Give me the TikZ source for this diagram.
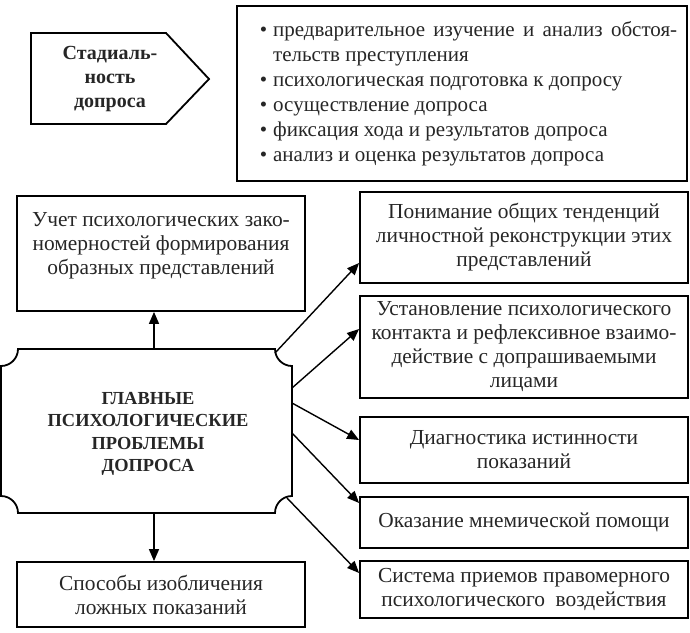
\documentclass[tikz,border=0pt]{standalone}
\usepackage{fontspec}
\setmainfont{Liberation Serif}
\usetikzlibrary{arrows.meta}
\begin{document}
\begin{tikzpicture}[x=0.5pt,y=-0.5pt,
    box/.style={draw, line width=0.9pt, align=center, inner sep=2pt,
        font=\fontsize{10.7}{12}\selectfont, text=black!85},
    rbox/.style={box, minimum width=164pt},
    arr/.style={line width=0.7pt, -{Triangle[length=6pt,width=5pt]}}]
    \useasboundingbox (0,0) rectangle (690,632);
    % stadialnost
    \draw[line width=0.9pt] (31,33) -- (166,33) -- (209,79) -- (166,124) -- (31,124) -- cycle;
    \node[font=\bfseries\fontsize{10}{12}\selectfont, align=center, text=black!85] (stage) at (110,79) {Стадиаль-\\ность\\допроса};
    \node[draw, line width=1.1pt, minimum width=225pt, minimum height=87.5pt, inner sep=2pt,
        font=\fontsize{10.5}{12.5}\selectfont, text=black!85] (steps) at (462,93.5)
        {\hspace*{6.5pt}\begin{tabular}{@{}l@{\hspace{3pt}}l@{}}
        \textbullet & \makebox[202pt][s]{предварительное изучение и анализ обстоя-}\\
         & тельств преступления\\
        \textbullet & психологическая подготовка к допросу\\
        \textbullet & осуществление допроса\\
        \textbullet & фиксация хода и результатов допроса\\
        \textbullet & анализ и оценка результатов допроса
        \end{tabular}};
    % main
    \draw[line width=0.9pt] (18,349) -- (275,349) arc[start angle=180, end angle=90, radius=17]
        -- (292,496) arc[start angle=270, end angle=180, radius=17]
        -- (18,513) arc[start angle=0, end angle=-90, radius=17]
        -- (1,366) arc[start angle=90, end angle=0, radius=17] -- cycle;
    \node[font=\bfseries\fontsize{9.2}{11.2}\selectfont, align=center, text=black!85] (main) at (148,434)
        {ГЛАВНЫЕ\\ПСИХОЛОГИЧЕСКИЕ\\ПРОБЛЕМЫ\\ДОПРОСА};
    \coordinate (up) at (154,349);
    \coordinate (down) at (154,513);
    \coordinate (m1) at (275,353);
    \coordinate (m2) at (292,388);
    \coordinate (m3) at (292,403);
    \coordinate (m4) at (292,433);
    \coordinate (m5) at (287,498);
    % left boxes
    \node[box, minimum width=144pt, minimum height=57.5pt] (facts) at (161,253.5)
        {Учет психологических зако-\\номерностей формирования\\образных представлений\\[-2pt]\mbox{}};
    \node[box, minimum width=144pt, minimum height=32.5pt] (lies) at (161,594.5)
        {Способы изобличения\\ложных показаний};
    % right boxes
    \node[rbox, minimum height=45.5pt] (trend) at (524,237.5)
        {Понимание общих тенденций\\личностной реконструкции этих\\представлений};
    \node[rbox, minimum height=51pt] (contact) at (524,347)
        {Установление психологического\\контакта и рефлексивное взаимо-\\действие с допрашиваемыми\\лицами};
    \node[rbox, minimum height=33pt] (truth) at (524,450)
        {Диагностика истинности\\показаний};
    \node[rbox, minimum height=25.5pt] (memory) at (524,522.5)
        {Оказание мнемической помощи};
    \node[rbox, minimum height=28.5pt] (influence) at (524,589.5)
        {Система приемов правомерного\\психологического\ \ воздействия};
    % arrows
    \draw[arr] (up) -- (up |- facts.south);
    \draw[arr] (down) -- (down |- lies.north);
    \draw[arr] (m1) -- ([yshift=-12.75pt]trend.west);
    \draw[arr] (m2) -- ([yshift=9pt]contact.west);
    \draw[arr] (m3) -- ([yshift=5pt]truth.west);
    \draw[arr] (m4) -- ([yshift=9.75pt]memory.west);
    \draw[arr] (m5) -- ([yshift=8.25pt]influence.west);
\end{tikzpicture}
\end{document}
